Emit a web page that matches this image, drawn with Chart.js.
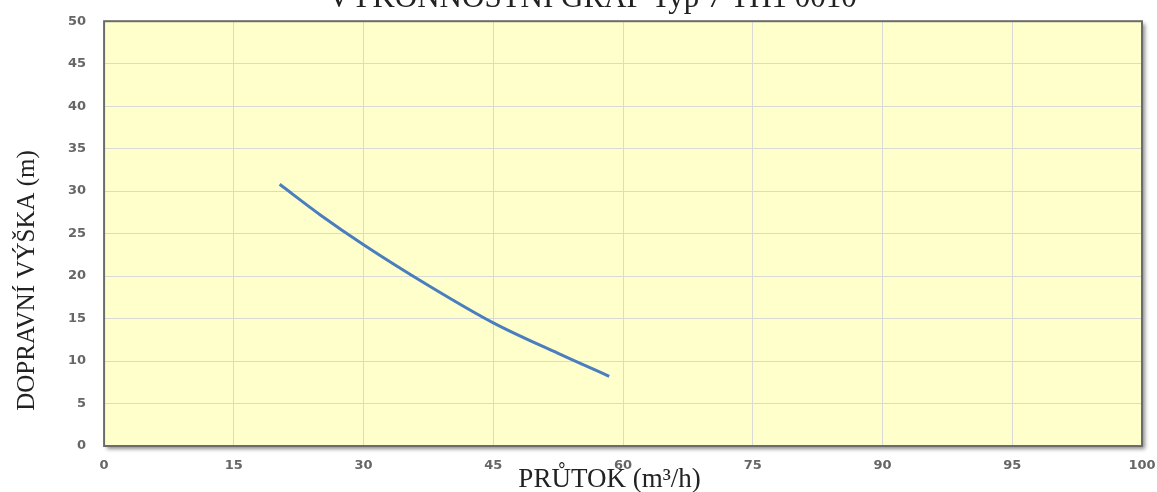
<!DOCTYPE html>
<html>
<head>
<meta charset="utf-8">
<script src="https://cdn.jsdelivr.net/npm/chart.js@4"></script>
<style>
    html, body { margin: 0; padding: 0; background: #fff; overflow: hidden; }
    #wrap { position: relative; width: 1157px; height: 512px; margin-top: -20px; }
</style>
</head>
<body>
<div id="wrap"><canvas id="pumpChart"></canvas></div>
<script>
// průtok (m3/h) a dopravní výška (m)
const flow = [20.3, 25, 30, 37.5, 45, 52.5, 58.4];
const head = [30.8, 27.2, 23.7, 18.9, 14.5, 10.9, 8.2];

// popisky osy x (nejsou lineární, jen za sebou po 15)
const xTickLabels = ['0', '15', '30', '45', '60', '75', '90', '95', '100'];

const chartTitle = 'VÝKONNOSTNÍ GRAF Typ 7 TH1 0010';
const xTitle = 'PRŮTOK (m³/h)';
const yTitle = 'DOPRAVNÍ VÝŠKA (m)';

const nbsp = (n) => '\u00A0'.repeat(n);

const plotBox = {
    id: 'plotBox',
    beforeDraw(chart) {
        const { ctx, chartArea: a } = chart;
        ctx.save();
        ctx.shadowColor = 'rgba(0,0,0,0.45)';
        ctx.shadowOffsetX = 3;
        ctx.shadowOffsetY = 3;
        ctx.shadowBlur = 4;
        ctx.fillStyle = '#ffffcc';
        ctx.fillRect(a.left, a.top, a.right - a.left, a.bottom - a.top);
        ctx.restore();
    },
    afterDatasetsDraw(chart) {
        const { ctx, chartArea: a } = chart;
        ctx.save();
        ctx.strokeStyle = '#6b6b6b';
        ctx.lineWidth = 2;
        ctx.strokeRect(a.left, a.top, a.right - a.left, a.bottom - a.top);
        ctx.restore();
    }
};

const pumpChart = new Chart(document.getElementById('pumpChart'), {
    type: 'line',
    data: {
        datasets: [{
            label: 'H',
            data: flow.map((q, i) => ({ x: q, y: head[i] })),
            borderColor: '#4a7ebf',
            borderWidth: 3,
            pointRadius: 0,
            cubicInterpolationMode: 'monotone',
            fill: false
        }]
    },
    options: {
        responsive: true,
        maintainAspectRatio: false,
        animation: false,
        layout: { padding: { left: 12, right: 0, bottom: 0 } },
        plugins: {
            legend: { display: false },
            tooltip: { enabled: false },
            title: {
                display: true,
                text: nbsp(2) + chartTitle,
                color: '#222',
                font: { family: 'Liberation Serif', size: 31, weight: 'normal' },
                padding: { top: 0, bottom: 4 }
            }
        },
        scales: {
            x: {
                type: 'linear',
                min: 0,
                max: 120,
                afterFit: (scale) => { scale.paddingRight = 15; },
                ticks: {
                    stepSize: 15,
                    padding: 12,
                    color: '#666',
                    font: { family: 'DejaVu Sans', size: 13, weight: 'bold' },
                    callback: (v) => xTickLabels[Math.round(v / 15)]
                },
                grid: { color: '#d9d9d6', drawTicks: false },
                border: { display: false },
                title: {
                    display: true,
                    text: xTitle + nbsp(4),
                    color: '#222',
                    font: { family: 'Liberation Serif', size: 27 },
                    padding: { top: -22, bottom: -4 }
                }
            },
            y: {
                min: 0,
                max: 50,
                ticks: {
                    stepSize: 5,
                    padding: 18,
                    color: '#666',
                    font: { family: 'DejaVu Sans', size: 13, weight: 'bold' }
                },
                grid: { color: '#d9d9d6', drawTicks: false },
                border: { display: false },
                title: {
                    display: true,
                    text: yTitle + nbsp(15),
                    color: '#222',
                    font: { family: 'Liberation Serif', size: 25 },
                    padding: { top: 0, bottom: 8 }
                }
            }
        }
    },
    plugins: [plotBox]
});
</script>
</body>
</html>
